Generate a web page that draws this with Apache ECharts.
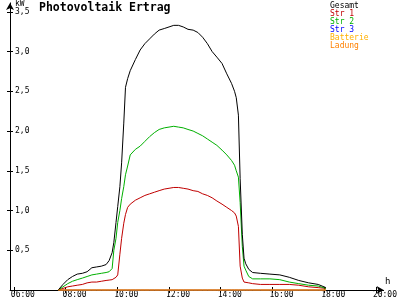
<!DOCTYPE html>
<html>
<head>
<meta charset="utf-8">
<script src="https://cdn.jsdelivr.net/npm/echarts@6/dist/echarts.min.js"></script>
<style>html,body{margin:0;padding:0;background:#fff}#c{width:400px;height:300px}</style>
</head>
<body>
<div id="c"></div>
<script>
const times = ["07:43","07:54","08:05","08:16","08:27","08:39","08:50","09:01","09:12","09:23","09:34","09:41","09:48","09:52","09:57","10:01","10:06","10:10","10:15","10:19","10:24","10:30","10:42","10:53","11:04","11:15","11:26","11:37","11:49","12:00","12:11","12:22","12:33","12:44","12:56","13:07","13:18","13:29","13:40","13:51","14:03","14:14","14:25","14:32","14:36","14:41","14:45","14:50","14:54","14:58","15:05","15:14","15:32","15:54","16:17","16:39","17:01","17:24","17:46","18:04"];
const gesamt = [0,0.07,0.13,0.17,0.2,0.21,0.23,0.28,0.29,0.3,0.32,0.37,0.47,0.6,0.85,1.05,1.3,1.6,2.1,2.55,2.66,2.76,2.9,3.02,3.1,3.16,3.22,3.27,3.29,3.31,3.33,3.33,3.31,3.28,3.27,3.24,3.18,3.1,3.0,2.93,2.85,2.72,2.6,2.5,2.42,2.2,1.4,0.7,0.4,0.33,0.26,0.22,0.21,0.2,0.19,0.16,0.12,0.09,0.07,0.03];
const str1 = [0,0.02,0.04,0.05,0.06,0.07,0.09,0.1,0.1,0.11,0.12,0.125,0.13,0.14,0.16,0.19,0.45,0.65,0.84,0.95,1.04,1.08,1.13,1.16,1.19,1.21,1.23,1.25,1.27,1.28,1.29,1.29,1.28,1.27,1.25,1.24,1.21,1.19,1.16,1.12,1.08,1.04,1.0,0.97,0.93,0.8,0.3,0.15,0.1,0.09,0.09,0.08,0.07,0.07,0.07,0.07,0.06,0.04,0.03,0.02];
const str2 = [0,0.04,0.08,0.11,0.13,0.15,0.17,0.19,0.2,0.21,0.22,0.23,0.27,0.5,0.65,0.85,1.0,1.15,1.3,1.45,1.56,1.7,1.77,1.81,1.87,1.93,1.98,2.02,2.04,2.05,2.06,2.05,2.04,2.02,2.0,1.97,1.94,1.9,1.86,1.82,1.76,1.7,1.63,1.57,1.5,1.42,1.1,0.55,0.3,0.25,0.17,0.14,0.14,0.14,0.13,0.1,0.08,0.06,0.05,0.02];
const str3 = times.map(() => 0);
const batterie = times.map(() => 0);
const ladung = times.map(() => 0);
const xTicks = [6, 8, 10, 12, 14, 16, 18, 20];
const yTicks = [0.5, 1.0, 1.5, 2.0, 2.5, 3.0, 3.5];
const seriesNames = ["Gesamt", "Str 1", "Str 2", "Str 3", "Batterie", "Ladung"];
const seriesColors = ["#000000", "#c00000", "#00b000", "#0000ff", "#ffb000", "#ff8000"];

const toHours = s => { const [h, m] = s.split(":").map(Number); return h + m / 60; };
const pairs = arr => times.map((t, i) => [toHours(t), arr[i]]);
const values = [gesamt, str1, str2, str3, batterie, ladung];
const drawOrder = [3, 4, 1, 2, 0, 5];

const font = "DejaVu Sans Mono";
const chart = echarts.init(document.getElementById("c"), null, { renderer: "canvas" });
const pad2 = n => (n < 10 ? "0" : "") + n;
const axisCommon = {
  type: "value",
  splitLine: { show: false }
};
chart.setOption({
  animation: false,
  backgroundColor: "#ffffff",
  title: {
    text: "Photovoltaik Ertrag",
    left: 39, top: 2, padding: 0,
    textStyle: { fontFamily: font, fontWeight: "bold", fontSize: 11.5, color: "#000" }
  },
  legend: {
    orient: "vertical",
    left: 325, top: 2, padding: 0,
    itemWidth: 0, itemHeight: 0, itemGap: 0,
    icon: "rect",
    selectedMode: false,
    textStyle: { fontFamily: font, fontSize: 8, lineHeight: 7.8 },
    data: seriesNames.map((n, i) => ({ name: n, textStyle: { color: seriesColors[i] } }))
  },
  grid: { left: 10, right: 2, top: 1, bottom: 10, containLabel: false },
  xAxis: [{
    ...axisCommon,
    min: 5.851, max: 20.298,
    name: "h",
    nameLocation: "end",
    nameGap: 4,
    nameTextStyle: { fontFamily: font, fontSize: 9, color: "#000", align: "center", verticalAlign: "bottom", padding: [0, 0, 4, 0] },
    axisLine: { show: true, onZero: false, lineStyle: { color: "#000", width: 1 }, symbol: ["none", "arrow"], symbolSize: [6, 7] },
    axisTick: { show: true, length: 3, customValues: xTicks, lineStyle: { color: "#000" } },
    axisLabel: { show: true, customValues: xTicks, fontFamily: font, fontSize: 8, color: "#000", margin: 1, align: "left", padding: [0, 0, 0, -3],
      formatter: v => pad2(Math.round(v)) + ":00" }
  }, {
    ...axisCommon,
    min: 5.851, max: 20.298,
    position: "bottom",
    axisLine: { show: false },
    axisTick: { show: true, inside: true, length: 3, customValues: xTicks, lineStyle: { color: "#000" } },
    axisLabel: { show: false }
  }],
  yAxis: [{
    ...axisCommon,
    min: 0, max: 3.6125,
    name: "kW",
    nameLocation: "end",
    nameGap: -10,
    nameTextStyle: { fontFamily: font, fontSize: 8, color: "#000", align: "left", verticalAlign: "top", padding: [0, 0, 0, 5] },
    axisLine: { show: true, onZero: false, lineStyle: { color: "#000", width: 1 }, symbol: ["none", "arrow"], symbolSize: [6, 7] },
    axisTick: { show: true, length: 3, customValues: yTicks, lineStyle: { color: "#000" } },
    axisLabel: { show: true, inside: true, customValues: yTicks, fontFamily: font, fontSize: 8, color: "#000", margin: 5,
      formatter: v => v.toFixed(1).replace(".", ",") }
  }, {
    ...axisCommon,
    min: 0, max: 3.6125,
    position: "left",
    axisLine: { show: false },
    axisTick: { show: true, inside: true, length: 3, customValues: yTicks, lineStyle: { color: "#000" } },
    axisLabel: { show: false }
  }],
  series: drawOrder.map(i => ({
    name: seriesNames[i],
    type: "line",
    data: pairs(values[i]),
    showSymbol: false,
    symbol: "none",
    clip: false,
    color: seriesColors[i],
    lineStyle: { width: 1, color: seriesColors[i] },
    z: 3 + drawOrder.indexOf(i)
  }))
});
</script>
</body>
</html>
